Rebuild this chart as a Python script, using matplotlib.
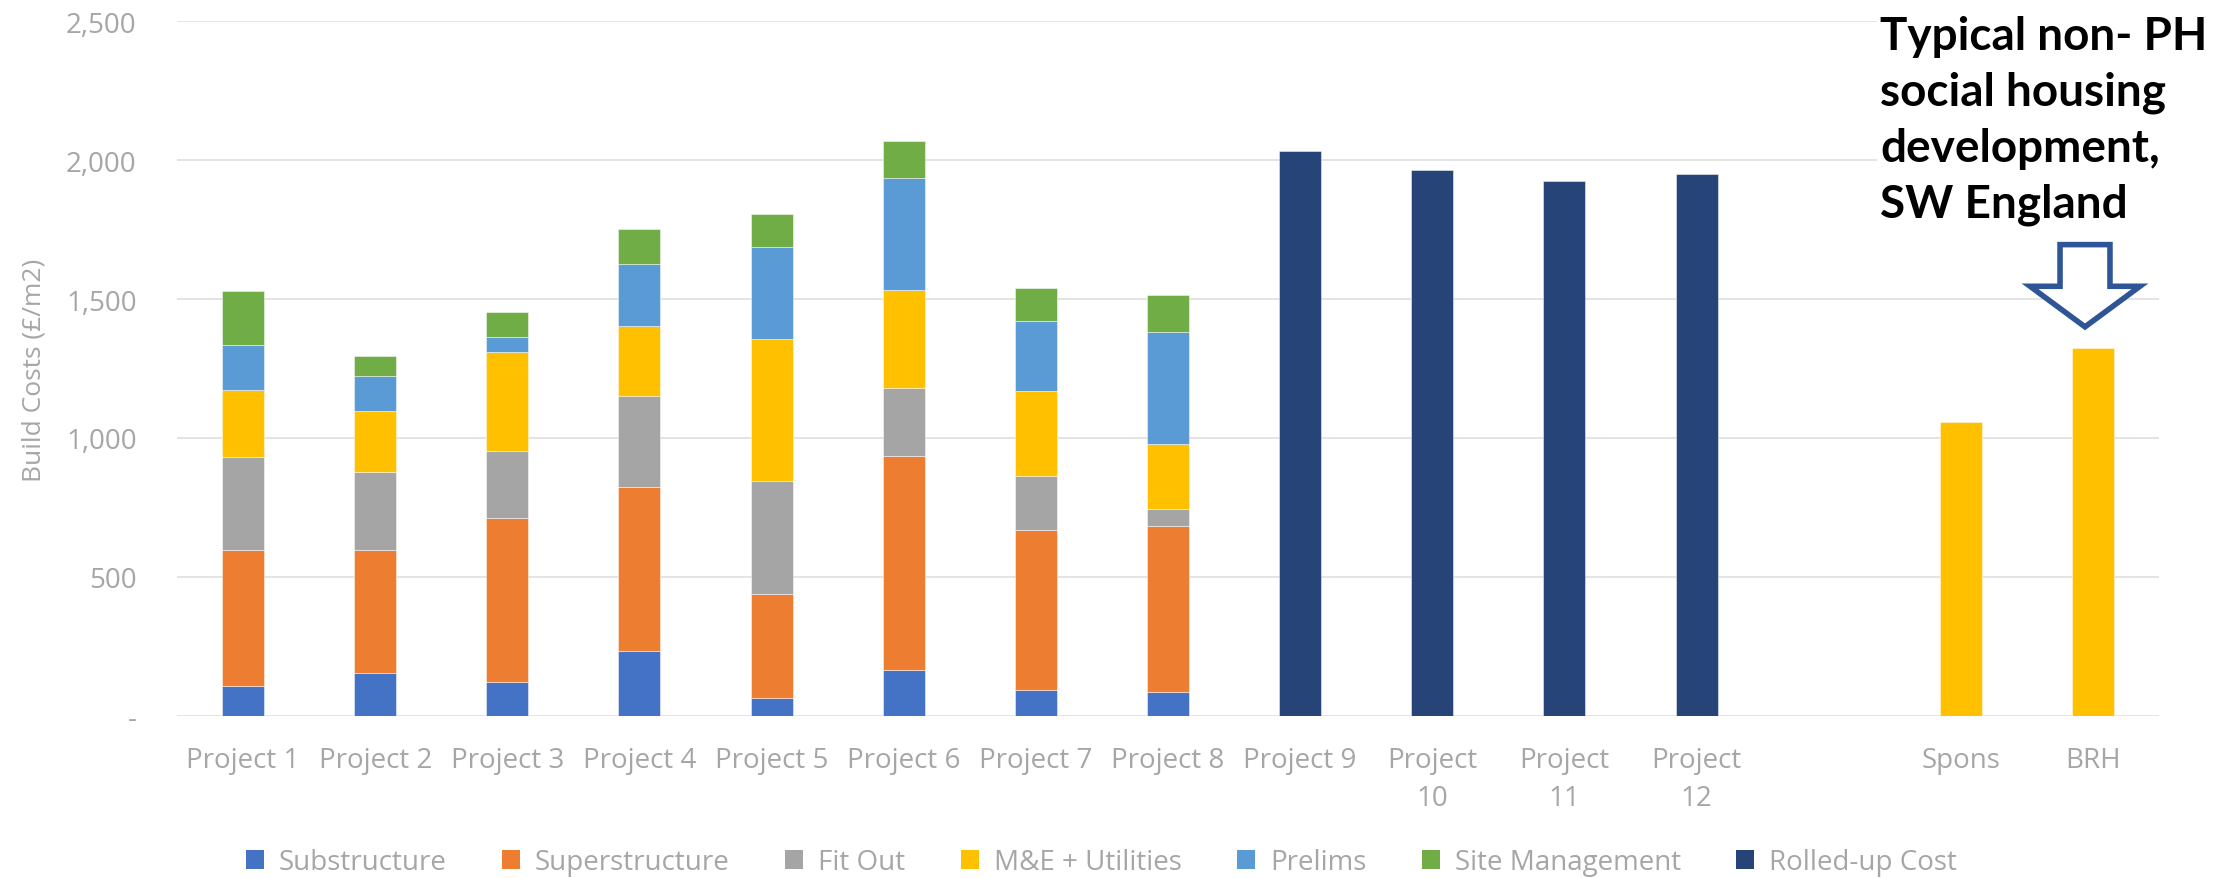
import matplotlib
matplotlib.use("Agg")
import matplotlib.pyplot as plt
from matplotlib.patches import Polygon, Patch
from matplotlib.ticker import FuncFormatter, MultipleLocator

# ---- data -------------------------------------------------------------
categories = ["Project 1", "Project 2", "Project 3", "Project 4", "Project 5",
              "Project 6", "Project 7", "Project 8", "Project 9",
              "Project\n10", "Project\n11", "Project\n12", "", "Spons", "BRH"]

# elemental breakdown for projects 1-8 (£/m2)
substructure   = [106, 153, 122, 234,  62, 166,  93,  85]
superstructure = [489, 442, 589, 589, 375, 770, 576, 599]
fit_out        = [337, 282, 241, 327, 407, 245, 195,  59]
me_utilities   = [240, 221, 357, 253, 511, 350, 306, 235]
prelims        = [161, 125,  53, 222, 331, 406, 252, 404]
site_mgmt      = [196,  72,  90, 126, 120, 132, 118, 134]

# projects 9-12 only reported as a single rolled-up figure
rolled_up = [2034, 1964, 1926, 1952]

# benchmarks
benchmark_names = ["Spons", "BRH"]
benchmark_values = [1059, 1324]

components = [
    ("Substructure", substructure, "#4472C4"),
    ("Superstructure", superstructure, "#ED7D31"),
    ("Fit Out", fit_out, "#A5A5A5"),
    ("M&E + Utilities", me_utilities, "#FFC000"),
    ("Prelims", prelims, "#5B9BD5"),
    ("Site Management", site_mgmt, "#70AD47"),
]
rolled_colour = "#264478"
benchmark_colour = "#FFC000"
text_grey = "#A6A6A6"
grid_grey = "#E4E4E4"

# ---- figure -------------------------------------------------------------
W, H = 2219, 879
fig = plt.figure(figsize=(W / 100, H / 100), dpi=100)
fig.patch.set_facecolor("white")
ax = fig.add_axes([177 / W, 1 - 716.7 / H, (2159 - 177) / W, (716.7 - 22.3) / H])

base_font = "Open Sans"
bar_w = 0.318
edge = dict(edgecolor=(1, 1, 1, 0.55), linewidth=0.6)

# stacked bars for projects 1-8
x_stack = list(range(len(substructure)))
bottoms = [0] * len(x_stack)
handles = []
for name, vals, col in components:
    ax.bar(x_stack, vals, bar_w, bottom=bottoms, color=col, label=name, zorder=3, **edge)
    handles.append(Patch(facecolor=col, label=name))
    bottoms = [bt + v for bt, v in zip(bottoms, vals)]

# rolled-up totals for projects 9-12
x_rolled = [categories.index(c) for c in ["Project 9", "Project\n10", "Project\n11", "Project\n12"]]
ax.bar(x_rolled, rolled_up, bar_w, color=rolled_colour, zorder=3, **edge)
handles.append(Patch(facecolor=rolled_colour, label="Rolled-up Cost"))

# benchmark bars
x_bench = [categories.index(c) for c in benchmark_names]
ax.bar(x_bench, benchmark_values, bar_w, color=benchmark_colour, zorder=3, **edge)

# ---- axes styling ---------------------------------------------------------
ax.set_xlim(-0.5, len(categories) - 0.5)
ax.set_ylim(0, 2500)
ax.yaxis.set_major_locator(MultipleLocator(500))
ax.yaxis.set_major_formatter(FuncFormatter(lambda v, p: "-" if v == 0 else f"{v:,.0f}"))
ax.grid(axis="y", color=grid_grey, linewidth=1.4, zorder=0)
ax.set_axisbelow(True)
for s in ax.spines.values():
    s.set_visible(False)

ax.set_xticks(range(len(categories)))
ax.set_xticklabels(categories, fontfamily=base_font, fontsize=20, color=text_grey,
                   linespacing=1.45)
ax.tick_params(axis="x", length=0, pad=22)
ax.tick_params(axis="y", length=0, pad=29, labelsize=20, labelcolor=text_grey)
for lbl in ax.get_yticklabels():
    lbl.set_fontfamily(base_font)

fig.text(34 / W, 1 - 370 / H, "Build Costs (£/m2)", rotation=90, ha="center", va="center",
         fontfamily=base_font, fontsize=19, color=text_grey)

# ---- legend -------------------------------------------------------------
leg = fig.legend(handles=handles, loc="center", bbox_to_anchor=(1101.5 / W, 1 - 863 / H),
                 ncol=len(handles), frameon=False, borderpad=0, borderaxespad=0,
                 handlelength=0.65, handleheight=0.65, handletextpad=0.53,
                 columnspacing=2.0, prop={"family": base_font, "size": 20})
for t in leg.get_texts():
    t.set_color(text_grey)

# ---- annotation -----------------------------------------------------------
fig.text(1880 / W, 1 - 16 / H, "Typical non- PH\nsocial housing\ndevelopment,\nSW England",
         ha="left", va="top", fontfamily="Lato", fontweight="bold", fontsize=33,
         color="black", linespacing=1.40, zorder=6,
         bbox=dict(facecolor="white", edgecolor="none", pad=2))

# hollow down-arrow pointing at the BRH bar
brh_x = categories.index("BRH")
brh_v = benchmark_values[benchmark_names.index("BRH")]
cx = brh_x - 0.06
shaft_hw, head_hw = 0.189, 0.416
tip_y = brh_v + 76
base_y = tip_y + 146
top_y = base_y + 150
arrow = Polygon([(cx - shaft_hw, top_y), (cx + shaft_hw, top_y), (cx + shaft_hw, base_y),
                 (cx + head_hw, base_y), (cx, tip_y), (cx - head_hw, base_y),
                 (cx - shaft_hw, base_y)], closed=True, facecolor="white",
                edgecolor="#2F5597", linewidth=4, joinstyle="miter", zorder=5, clip_on=False)
ax.add_patch(arrow)

fig.savefig("out.png", dpi=100, facecolor="white")
